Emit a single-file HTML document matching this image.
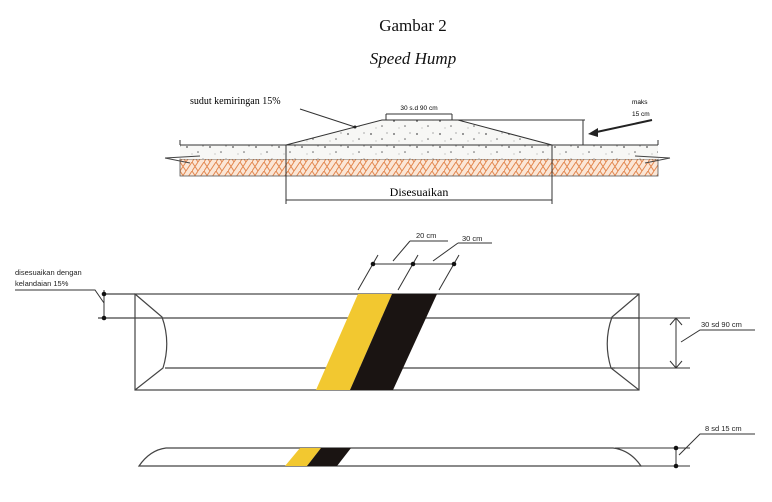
<!DOCTYPE html>
<html><head><meta charset="utf-8"><style>
html,body{margin:0;padding:0;background:#fff;}
svg{display:block;}
</style></head><body>
<svg width="772" height="502" viewBox="0 0 772 502" xmlns="http://www.w3.org/2000/svg">
<defs>
<pattern id="hatch" width="12" height="9" patternUnits="userSpaceOnUse">
<rect width="12" height="9" fill="#fbe6d6"/>
<path d="M0 9 L6 0 M6 9 L12 0 M0 0 L6 9" stroke="#e2874f" stroke-width="1" fill="none"/>
</pattern>
<pattern id="conc" width="23" height="13" patternUnits="userSpaceOnUse">
<rect width="23" height="13" fill="#f7f7f5"/>
<circle cx="3" cy="4" r="0.9" fill="#555"/><circle cx="14" cy="9" r="0.8" fill="#666"/>
<circle cx="19" cy="3" r="0.6" fill="#777"/><circle cx="8" cy="11" r="0.5" fill="#888"/>
</pattern>
</defs>
<g font-family="Liberation Serif, serif" fill="#111">
<text x="413" y="31" font-size="17" text-anchor="middle">Gambar 2</text>
<text x="413" y="64" font-size="17" font-style="italic" text-anchor="middle">Speed Hump</text>
</g>
<!-- cross section -->
<rect x="180" y="159" width="478" height="17" fill="url(#hatch)" stroke="#555" stroke-width="0.8"/>
<rect x="180" y="145" width="478" height="14" fill="url(#conc)"/>
<polygon points="286,145 382,120 458,120 552,145" fill="url(#conc)" stroke="#333" stroke-width="1"/>
<line x1="180" y1="145" x2="658" y2="145" stroke="#333" stroke-width="1"/>
<line x1="180" y1="140" x2="180" y2="145" stroke="#333"/>
<line x1="658" y1="140" x2="658" y2="145" stroke="#333"/>
<path d="M165 158 L200 156 M165 158 L190 163 M670 158 L635 156 M670 158 L645 163" stroke="#444" fill="none"/>
<line x1="286" y1="145" x2="286" y2="204" stroke="#333"/>
<line x1="552" y1="145" x2="552" y2="204" stroke="#333"/>
<line x1="286" y1="200" x2="552" y2="200" stroke="#333"/>
<text x="419" y="196" font-family="Liberation Serif, serif" font-size="12" text-anchor="middle">Disesuaikan</text>
<line x1="386" y1="114" x2="452" y2="114" stroke="#333"/>
<line x1="386" y1="114" x2="386" y2="120" stroke="#333"/><line x1="452" y1="114" x2="452" y2="120" stroke="#333"/>
<text x="419" y="110" font-family="Liberation Sans, sans-serif" font-size="6.5" text-anchor="middle">30 s.d 90 cm</text>
<text x="190" y="104" font-family="Liberation Serif, serif" font-size="10">sudut kemiringan 15%</text>
<line x1="300" y1="109" x2="355" y2="127" stroke="#333"/>
<circle cx="355" cy="127" r="1.5" fill="#222"/>
<line x1="458" y1="120" x2="585" y2="120" stroke="#333"/>
<line x1="583" y1="120" x2="583" y2="145" stroke="#333"/>
<text x="632" y="104" font-family="Liberation Sans, sans-serif" font-size="6.5">maks</text>
<text x="632" y="116" font-family="Liberation Sans, sans-serif" font-size="6.5">15 cm</text>
<line x1="652" y1="120" x2="592" y2="133" stroke="#222" stroke-width="2"/>
<polygon points="588,134 598,128 598,137" fill="#222"/>
<!-- plan view -->
<g stroke="#444" stroke-width="1.2" fill="none">
<rect x="135" y="294" width="504" height="96"/>
<line x1="105" y1="294" x2="135" y2="294"/>
<line x1="98" y1="318" x2="639" y2="318"/>
<line x1="165" y1="368" x2="615" y2="368"/>
<path d="M135 294 L162 317 Q171 342 163 368 L135 390"/>
<path d="M639 294 L612 317 Q603 342 611 368 L639 390"/>
</g>
<polygon points="358,294 392,294 350,390 316,390" fill="#f2c830"/>
<polygon points="392,294 437,294 393,390 350,390" fill="#1a1412"/>
<g stroke="#333" stroke-width="1" fill="none">
<line x1="373" y1="264" x2="454" y2="264"/>
<line x1="378" y1="255" x2="358" y2="290"/>
<line x1="418" y1="255" x2="398" y2="290"/>
<line x1="459" y1="255" x2="439" y2="290"/>
<path d="M410 241 L448 241 M410 241 L393 261"/>
<path d="M458 243 L492 243 M458 243 L433 261"/>
<line x1="104" y1="290" x2="104" y2="320"/>
<path d="M15 290 L95 290 L104 303"/>
<line x1="615" y1="318" x2="690" y2="318"/>
<line x1="615" y1="368" x2="690" y2="368"/>
<line x1="676" y1="318" x2="676" y2="368"/>
<path d="M670 325 L676 318 L682 325 M670 361 L676 368 L682 361"/>
<path d="M755 330 L700 330 L681 342"/>
<line x1="676" y1="448" x2="676" y2="466"/>
<line x1="615" y1="448" x2="690" y2="448"/>
<line x1="615" y1="466" x2="690" y2="466"/>
<path d="M755 434 L700 434 L679 455"/>
</g>
<g fill="#111">
<circle cx="373" cy="264" r="2.3"/><circle cx="413" cy="264" r="2.3"/><circle cx="454" cy="264" r="2.3"/>
<circle cx="104" cy="294" r="2.3"/><circle cx="104" cy="318" r="2.3"/>
<circle cx="676" cy="448" r="2.3"/><circle cx="676" cy="466" r="2.3"/>
</g>
<g font-family="Liberation Sans, sans-serif" font-size="7.5" fill="#222">
<text x="416" y="238">20 cm</text>
<text x="462" y="241">30 cm</text>
<text x="15" y="275">disesuaikan dengan</text>
<text x="15" y="286">kelandaian 15%</text>
<text x="701" y="327">30 sd 90 cm</text>
<text x="705" y="431">8 sd 15 cm</text>
</g>
<!-- side view -->
<path d="M139 466 Q150 450 166 448 L613 448 Q630 450 641 466 Z" fill="#fff" stroke="#444" stroke-width="1.2"/>
<polygon points="300,448 321,448 307,466 285,466" fill="#f2c830"/>
<polygon points="321,448 351,448 337,466 307,466" fill="#1a1412"/>
</svg>
</body></html>
